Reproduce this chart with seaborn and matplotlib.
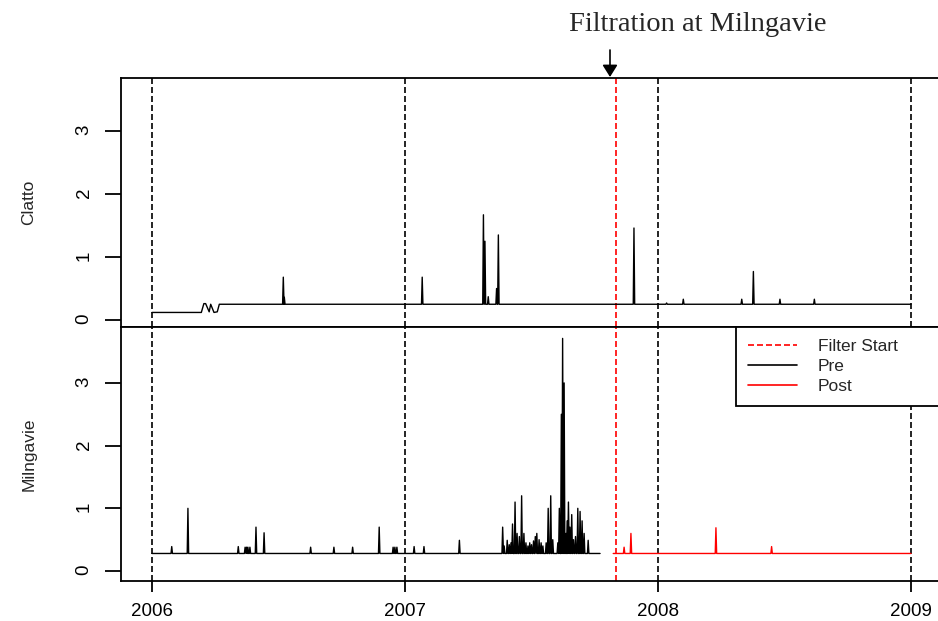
import pandas as pd
import matplotlib
matplotlib.use("Agg")
import matplotlib.pyplot as plt
from matplotlib.lines import Line2D
import seaborn as sns

# ── Data (decimal years) ───────────────────────────────────────────────────
YEARS = [2006, 2007, 2008, 2009]
FILTER_START = 2007.834

# Clatto: low start section, then baseline 0.25 with spikes
CLATTO_LOW_T = [2006.000, 2006.195, 2006.205, 2006.212, 2006.226, 2006.232,
                2006.245, 2006.258, 2006.266]
CLATTO_LOW_V = [0.12, 0.12, 0.26, 0.26, 0.13, 0.25, 0.12, 0.13, 0.25]
CLATTO_BASE = 0.25
CLATTO_SPIKE_T = [2006.519, 2006.523, 2007.068, 2007.310, 2007.316, 2007.329,
                  2007.362, 2007.369, 2007.905, 2008.034, 2008.100, 2008.331,
                  2008.377, 2008.482, 2008.618]
CLATTO_SPIKE_H = [0.68, 0.36, 0.68, 1.67, 1.25, 0.37,
                  0.50, 1.35, 1.46, 0.27, 0.33, 0.33,
                  0.77, 0.33, 0.33]

# Milngavie before filtration
MILN_BASE = 0.28
PRE_END = 2007.771
PRE_SPIKE_T = [2006.078, 2006.142, 2006.341, 2006.368, 2006.374, 2006.379,
               2006.387, 2006.411, 2006.443, 2006.627, 2006.719, 2006.793,
               2006.898, 2006.953, 2006.960, 2006.968, 2007.036, 2007.075,
               2007.215, 2007.386, 2007.392, 2007.404, 2007.412, 2007.419,
               2007.425, 2007.435, 2007.443, 2007.452, 2007.461, 2007.470,
               2007.478, 2007.486, 2007.493, 2007.500, 2007.508, 2007.515,
               2007.521, 2007.530, 2007.538, 2007.545, 2007.558, 2007.566,
               2007.576, 2007.584, 2007.604, 2007.610, 2007.618, 2007.623,
               2007.629, 2007.636, 2007.641, 2007.646, 2007.652, 2007.659,
               2007.666, 2007.674, 2007.683, 2007.692, 2007.700, 2007.708,
               2007.724]
PRE_SPIKE_H = [0.39, 1.00, 0.39, 0.38, 0.38, 0.38,
               0.38, 0.70, 0.61, 0.38, 0.38, 0.38,
               0.70, 0.38, 0.38, 0.38, 0.39, 0.39,
               0.49, 0.70, 0.40, 0.49, 0.42, 0.45,
               0.75, 1.10, 0.60, 0.55, 1.20, 0.60,
               0.45, 0.40, 0.45, 0.42, 0.48, 0.55,
               0.60, 0.50, 0.45, 0.40, 0.45, 1.00,
               1.20, 0.50, 0.45, 1.00, 2.50, 3.71,
               3.00, 0.60, 0.80, 1.10, 0.70, 0.90,
               0.50, 0.55, 1.00, 0.95, 0.80, 0.60,
               0.49]

# Milngavie after filtration
POST_START = 2007.823
POST_SPIKE_T = [2007.866, 2007.893, 2008.229, 2008.449]
POST_SPIKE_H = [0.38, 0.60, 0.69, 0.39]


def spike_series(t_start, t_end, base, spike_t, spike_h, width=0.0028):
    t, v = [t_start], [base]
    for st, sh in zip(spike_t, spike_h):
        t += [st - width, st, st + width]
        v += [base, sh, base]
    t.append(t_end)
    v.append(base)
    return pd.DataFrame({"t": t, "v": v})


clatto = pd.concat([
    pd.DataFrame({"t": CLATTO_LOW_T, "v": CLATTO_LOW_V}),
    spike_series(CLATTO_LOW_T[-1], 2009.0, CLATTO_BASE, CLATTO_SPIKE_T, CLATTO_SPIKE_H),
], ignore_index=True)
pre = spike_series(2006.0, PRE_END, MILN_BASE, PRE_SPIKE_T, PRE_SPIKE_H)
post = spike_series(POST_START, 2009.0, MILN_BASE, POST_SPIKE_T, POST_SPIKE_H)

# ── Style ──────────────────────────────────────────────────────────────────
sns.set_theme(style="ticks")
plt.rcParams["font.family"] = ["Liberation Sans", "DejaVu Sans"]
plt.rcParams.update({"axes.linewidth": 1.3, "axes.edgecolor": "black",
                     "xtick.color": "black", "ytick.color": "black"})

W, H = 938, 621
fig = plt.figure(figsize=(W / 100, H / 100), dpi=100)
left, width = 121 / W, 839 / W
ax_top = fig.add_axes([left, 1 - 327 / H, width, 249 / H])
ax_bot = fig.add_axes([left, 1 - 581 / H, width, 254 / H], sharex=ax_top)

DASH = (0, (3.6, 1.8))

sns.lineplot(data=clatto, x="t", y="v", ax=ax_top, estimator=None, sort=False,
             color="black", lw=1.0)
sns.lineplot(data=pre, x="t", y="v", ax=ax_bot, estimator=None, sort=False,
             color="black", lw=1.0)
sns.lineplot(data=post, x="t", y="v", ax=ax_bot, estimator=None, sort=False,
             color="red", lw=1.0)

for ax, label in [(ax_top, "Clatto"), (ax_bot, "Milngavie")]:
    for yr in YEARS:
        ax.axvline(yr, color="black", ls=DASH, lw=1.2, zorder=1)
    ax.axvline(FILTER_START, color="red", ls=DASH, lw=1.2, zorder=1)
    ax.set_yticks([0, 1, 2, 3])
    ax.tick_params(axis="y", length=11.5, width=1.3, pad=9, labelsize=13.5,
                   labelrotation=90)
    ax.set_ylabel(label, fontsize=12.5)
    ax.yaxis.set_label_coords(-0.1007, 0.5)
    ax.set_xlabel("")

ax_top.set_ylim(-0.111, 3.841)
ax_bot.set_ylim(-0.159, 3.892)
ax_top.set_xlim(2006 - 31 / 253, 2006 + 808 / 253)
ax_top.tick_params(axis="x", bottom=False, labelbottom=False)
ax_bot.set_xticks(YEARS)
ax_bot.set_xticklabels([str(y) for y in YEARS])
ax_bot.tick_params(axis="x", length=8, width=1.3, pad=8, labelsize=13.5)

# Legend (box runs off the right edge like the original)
handles = [Line2D([], [], color="red", ls=DASH, lw=1.2),
           Line2D([], [], color="black", lw=1.2),
           Line2D([], [], color="red", lw=1.2)]
leg = ax_bot.legend(handles, ["Filter Start", "Pre", "Post"],
                    loc="upper left", mode="expand",
                    bbox_to_anchor=(736 / W, 1 - 407 / H, 0.25, 80 / H),
                    bbox_transform=fig.transFigure, borderaxespad=0,
                    fontsize=12.5, handlelength=2.8, handletextpad=1.2,
                    labelspacing=0.28, borderpad=0.7, fancybox=False,
                    framealpha=1, edgecolor="black")
leg.get_frame().set_linewidth(1.3)

# Annotation above the plot
fig.text(698 / W, 1 - 31 / H, "Filtration at Milngavie", ha="center",
         va="baseline", fontsize=20.5, family=["Liberation Serif", "DejaVu Serif"])
fig.add_artist(matplotlib.patches.FancyArrowPatch(
    (610 / W, 1 - 50 / H), (610 / W, 1 - 77 / H), transform=fig.transFigure,
    arrowstyle="-|>,head_length=0.4,head_width=0.25", mutation_scale=18,
    color="black", lw=1.2, shrinkA=0, shrinkB=0))

fig.savefig("out.png", dpi=100)
